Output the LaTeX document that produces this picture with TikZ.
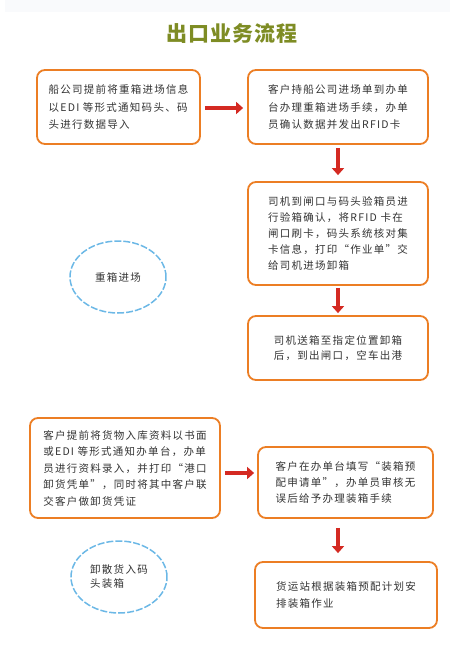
\documentclass[tikz,border=0pt]{standalone}
\usepackage{fontspec}
\newfontfamily\cjk[LetterSpace=12]{Noto Sans CJK SC}
\newfontfamily\cjktitle[LetterSpace=4]{Noto Sans CJK SC}
\usetikzlibrary{shapes.geometric,arrows.meta}
\definecolor{boxorange}{HTML}{EC7E24}
\definecolor{titlegreen}{HTML}{7E8C24}
\definecolor{arrowred}{HTML}{D42A22}
\definecolor{ellblue}{HTML}{6CB8E6}
\definecolor{txtgray}{HTML}{333333}
\definecolor{bandgray}{HTML}{F9FAFC}
\tikzset{
  procbox/.style={draw=boxorange, line width=1.8pt, rounded corners=8pt, fill=white,
    align=left, text=txtgray, inner sep=0pt},
  stageell/.style={ellipse, draw=ellblue, line width=1.5pt, dash pattern=on 7pt off 2pt,
    minimum width=96pt, minimum height=72pt, inner sep=0pt, text=txtgray, align=left,
    font=\cjk\fontsize{10.5}{14}\selectfont},
  redarrow/.style={draw=arrowred, line width=4.5pt,
    -{Triangle[width=12pt,length=7pt,fill=arrowred]}},
  titletext/.style={text=titlegreen, font=\cjktitle\bfseries\fontsize{21}{24}\selectfont}
}
\begin{document}
\begin{tikzpicture}[x=1pt,y=-1pt]
\useasboundingbox (0,0) rectangle (469,651);
\fill[bandgray] (5,0) rectangle (450,12);
\node[titletext] (title) at (232,33) {出口业务流程};

\node[procbox, minimum width=163pt, minimum height=74pt,
  font=\cjk\fontsize{10.5}{17.5}\selectfont] (b1) at (118.5,107)
  {船公司提前将重箱进场信息\\以EDI 等形式通知码头、码\\头进行数据导入};
\node[procbox, minimum width=180pt, minimum height=74pt,
  font=\cjk\fontsize{10.5}{17.5}\selectfont] (b2) at (338,107)
  {客户持船公司进场单到办单\\台办理重箱进场手续，办单\\员确认数据并发出RFID卡};
\node[procbox, minimum width=180pt, minimum height=103pt,
  font=\cjk\fontsize{10.5}{16}\selectfont] (b3) at (338,233.5)
  {司机到闸口与码头验箱员进\\行验箱确认，将RFID 卡在\\闸口刷卡，码头系统核对集\\卡信息，打印“作业单”交\\给司机进场卸箱};
\node[procbox, minimum width=180pt, minimum height=64pt,
  font=\cjk\fontsize{10.5}{15.5}\selectfont] (b4) at (338,348)
  {司机送箱至指定位置卸箱\\后，到出闸口，空车出港};

\node[stageell] (e1) at (118,277) {重箱进场};

\node[procbox, minimum width=190pt, minimum height=100pt,
  font=\cjk\fontsize{10.5}{16.5}\selectfont] (b5) at (125,468)
  {客户提前将货物入库资料以书面\\或EDI 等形式通知办单台，办单\\员进行资料录入，并打印“港口\\卸货凭单”，同时将其中客户联\\交客户做卸货凭证};
\node[procbox, minimum width=175pt, minimum height=71pt,
  font=\cjk\fontsize{10.5}{16}\selectfont] (b6) at (345.5,482.5)
  {客户在办单台填写“装箱预\\配申请单”，办单员审核无\\误后给予办理装箱手续};
\node[procbox, minimum width=182pt, minimum height=66pt,
  font=\cjk\fontsize{10.5}{17}\selectfont] (b7) at (346,595)
  {货运站根据装箱预配计划安\\排装箱作业};

\node[stageell] (e2) at (119,577) {卸散货入码\\头装箱};

\coordinate (a1) at (0,108);
\coordinate (a2) at (0,473);
\coordinate (a3) at (338,0);
\draw[redarrow, shorten <=4pt, shorten >=4pt] (b1.east |- a1) -- (b2.west |- a1);
\draw[redarrow, shorten <=3pt, shorten >=6pt] (b2.south) -- (b3.north);
\draw[redarrow, shorten <=2pt, shorten >=2pt] (b3.south) -- (b4.north);
\draw[redarrow, shorten <=4pt, shorten >=3pt] (b5.east |- a2) -- (b6.west |- a2);
\draw[redarrow, shorten <=9pt, shorten >=8pt] (b6.south -| a3) -- (b7.north -| a3);
\end{tikzpicture}
\end{document}
